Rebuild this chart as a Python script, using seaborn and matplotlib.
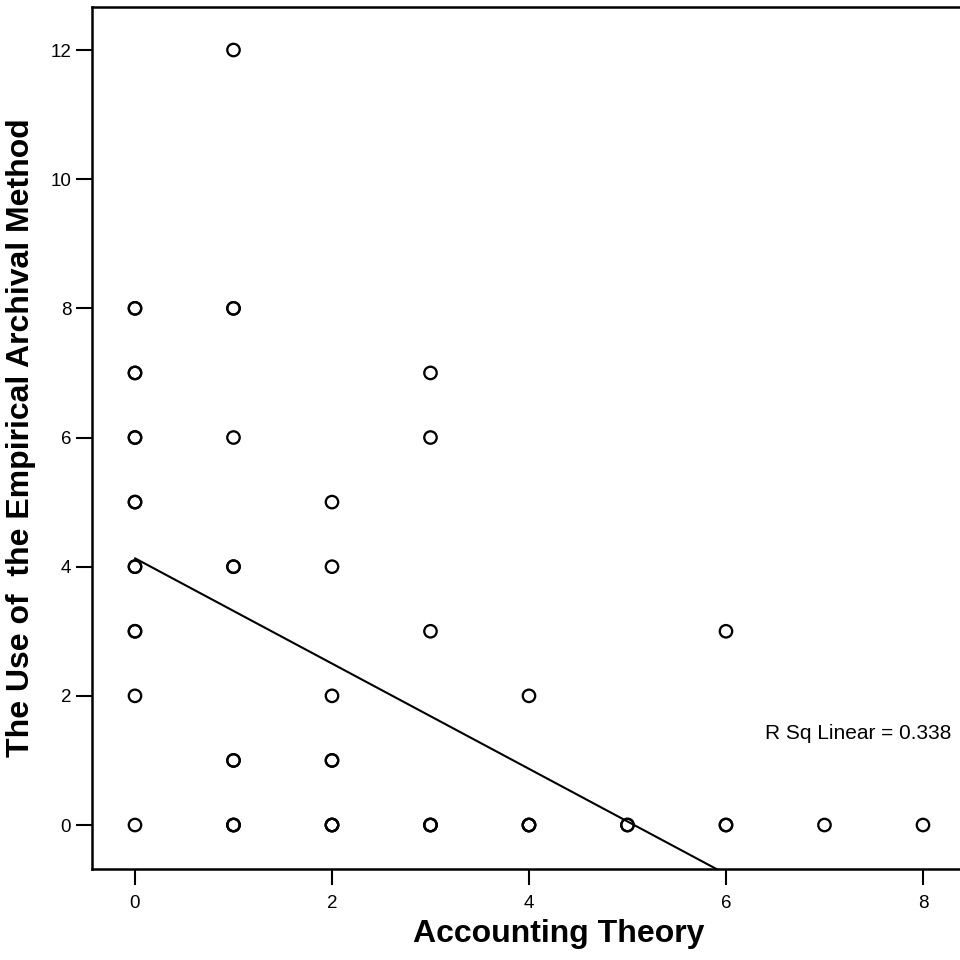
import numpy as np
import pandas as pd
import matplotlib
matplotlib.use("Agg")
import matplotlib.pyplot as plt
import seaborn as sns

# Observations: (Accounting Theory, Empirical Archival Method, number of papers)
theory = [0, 0, 0, 0, 0, 0, 0, 0,
          1, 1, 1, 1, 1, 1,
          2, 2, 2, 2, 2,
          3, 3, 3, 3,
          4, 4,
          5,
          6, 6,
          7,
          8]
archival = [0, 2, 3, 4, 5, 6, 7, 8,
            0, 1, 4, 6, 8, 12,
            0, 1, 2, 4, 5,
            0, 3, 6, 7,
            0, 2,
            0,
            0, 3,
            0,
            0]
count = [1, 1, 2, 2, 2, 2, 2, 2,
         3, 2, 2, 1, 2, 1,
         3, 2, 1, 1, 1,
         3, 1, 1, 1,
         3, 1,
         2,
         2, 1,
         1,
         1]

# Linear fit reported for the data
fit_intercept = 4.13
fit_slope = -0.815
r_squared = 0.338

df = pd.DataFrame({
    "Accounting Theory": np.repeat(theory, count),
    "The Use of  the Empirical Archival Method": np.repeat(archival, count),
})

sns.set_style("white")
plt.rcParams["font.family"] = ["Liberation Sans", "DejaVu Sans"]
plt.rcParams["text.color"] = "black"
plt.rcParams["axes.labelcolor"] = "black"
plt.rcParams["xtick.color"] = "black"
plt.rcParams["ytick.color"] = "black"

fig = plt.figure(figsize=(9.6, 9.6), dpi=100)
ax = fig.add_axes([92 / 960, 91 / 960, 934 / 960, 862 / 960])

sns.scatterplot(data=df, x="Accounting Theory",
                y="The Use of  the Empirical Archival Method",
                marker="o", s=80, facecolor="none", edgecolor="black",
                linewidth=1.65, ax=ax, zorder=3)

line_df = pd.DataFrame({"x": [min(theory), max(theory)]})
line_df["y"] = fit_intercept + fit_slope * line_df["x"]
sns.lineplot(data=line_df, x="x", y="y", color="black", linewidth=1.5,
             ax=ax, zorder=2)

ax.set_xlim(-0.4365, 9.046)
ax.set_ylim(-0.681, 12.666)
ax.set_xticks([0, 2, 4, 6, 8])
ax.set_yticks([0, 2, 4, 6, 8, 10, 12])

for side in ["left", "bottom", "top"]:
    ax.spines[side].set_visible(True)
    ax.spines[side].set_linewidth(1.8)
    ax.spines[side].set_color("black")
ax.spines["right"].set_visible(False)

ax.tick_params(axis="both", which="major", direction="out", length=11.5,
               width=1.5, color="black", labelsize=13.5, labelcolor="black",
               bottom=True, left=True)
ax.tick_params(axis="x", pad=7)
ax.tick_params(axis="y", pad=3.5)

ax.set_xlabel("Accounting Theory", fontsize=23, fontweight="bold",
              labelpad=5, color="black")
ax.set_ylabel("The Use of  the Empirical Archival Method", fontsize=23,
              fontweight="bold", labelpad=10, color="black")

ax.text(8.29, 1.42, f"R Sq Linear = {r_squared:.3f}", fontsize=15,
        ha="right", va="center", color="black")

fig.savefig("out.png", dpi=100)
